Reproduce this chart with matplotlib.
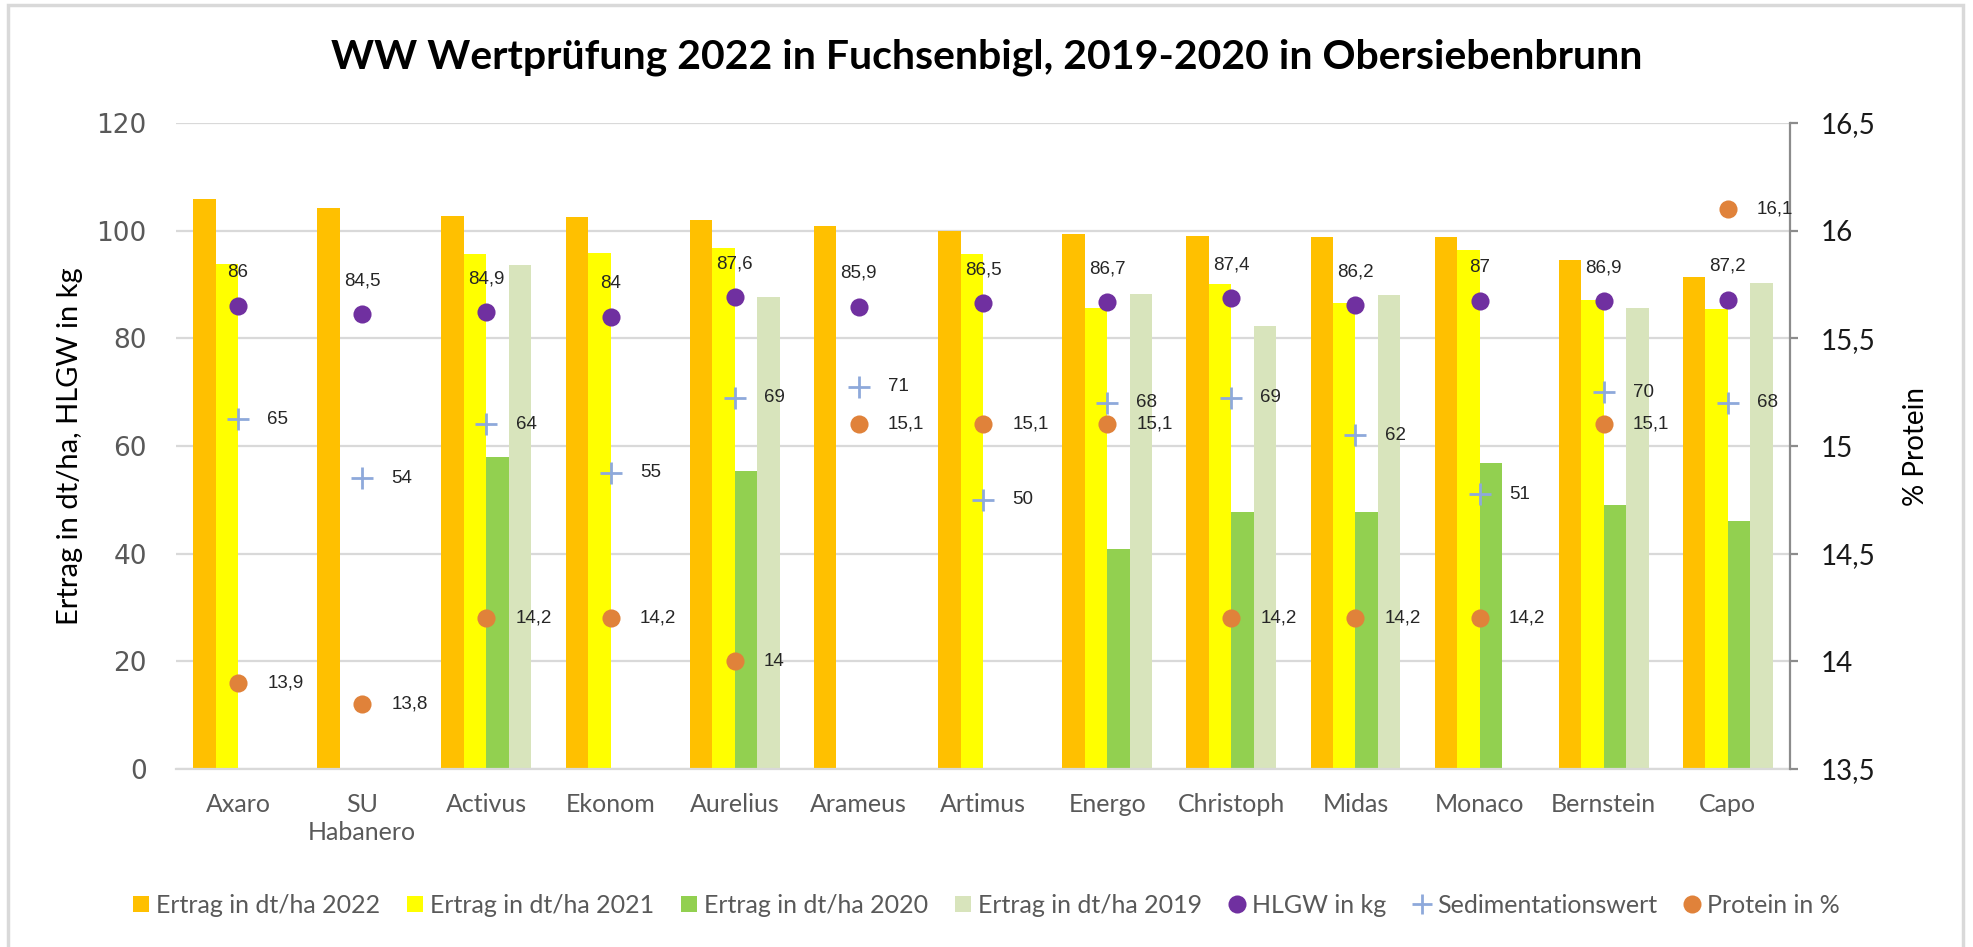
import numpy as np
import matplotlib
matplotlib.use("Agg")
import matplotlib.pyplot as plt
from matplotlib.lines import Line2D
from matplotlib.patches import Rectangle

nan = np.nan

sorten = ["Axaro", "SU\nHabanero", "Activus", "Ekonom", "Aurelius", "Arameus", "Artimus",
          "Energo", "Christoph", "Midas", "Monaco", "Bernstein", "Capo"]
ertrag_2022 = [105.9, 104.2, 102.7, 102.5, 101.9, 100.8, 99.9, 99.4, 99.1, 98.8, 98.8, 94.6, 91.4]
ertrag_2021 = [93.9, nan, 95.6, 95.9, 96.8, nan, 95.6, 85.7, 90.1, 86.5, 96.5, 87.2, 85.5]
ertrag_2020 = [nan, nan, 58.0, nan, 55.3, nan, nan, 40.9, 47.8, 47.8, 56.9, 49.0, 46.1]
ertrag_2019 = [nan, nan, 93.6, nan, 87.7, nan, nan, 88.2, 82.3, 88.0, nan, 85.7, 90.3]
hlgw = [86, 84.5, 84.9, 84, 87.6, 85.9, 86.5, 86.7, 87.4, 86.2, 87, 86.9, 87.2]
sediment = [65, 54, 64, 55, 69, 71, 50, 68, 69, 62, 51, 70, 68]
protein = [13.9, 13.8, 14.2, 14.2, 14, 15.1, 15.1, 15.1, 14.2, 14.2, 14.2, 15.1, 16.1]

bar_series = [
    ("Ertrag in dt/ha 2022", ertrag_2022, "#FFC000"),
    ("Ertrag in dt/ha 2021", ertrag_2021, "#FFFF00"),
    ("Ertrag in dt/ha 2020", ertrag_2020, "#92D050"),
    ("Ertrag in dt/ha 2019", ertrag_2019, "#D8E4BC"),
]
C_HLGW = "#7030A0"
C_SED = "#8EA9DB"
C_PROT = "#E0823A"
GRID = "#D9D9D9"
TXT = "#595959"
LABEL_FONT = ["Liberation Sans", "DejaVu Sans"]
CAL_FONT = ["Lato", "DejaVu Sans"]


def fmt(v):
    return f"{v:g}".replace(".", ",")


fig = plt.figure(figsize=(19.73, 9.47), dpi=100)
ax = fig.add_axes([176 / 1973, 1 - 769 / 947, (1790 - 176) / 1973, (769 - 123) / 947])
ax2 = ax.twinx()

x = np.arange(len(sorten))
w = 0.181
for k, (name, vals, col) in enumerate(bar_series):
    ax.bar(x + (k - 1.5) * w, vals, width=w, color=col, zorder=2, label=name)

ax.scatter(x, hlgw, s=170, color=C_HLGW, zorder=4, linewidths=0)
ax.scatter(x, sediment, s=230, marker="+", color=C_SED, linewidths=2, zorder=4)
ax2.scatter(x, protein, s=170, color=C_PROT, zorder=4, linewidths=0)

for i in range(len(sorten)):
    ax.annotate(fmt(hlgw[i]), (x[i], hlgw[i]), xytext=(0, 24), textcoords="offset points",
                ha="center", va="center", fontsize=13.5, family=LABEL_FONT, color="#262626", zorder=5)
    ax.annotate(fmt(sediment[i]), (x[i], sediment[i]), xytext=(21, 0), textcoords="offset points",
                ha="left", va="center", fontsize=13.5, family=LABEL_FONT, color="#262626", zorder=5)
    ax2.annotate(fmt(protein[i]), (x[i], protein[i]), xytext=(21, 0), textcoords="offset points",
                 ha="left", va="center", fontsize=13.5, family=LABEL_FONT, color="#262626",
                 zorder=5, annotation_clip=False)

ax.set_xlim(-0.5, len(sorten) - 0.5)
ax.set_ylim(0, 120)
ax.set_yticks(np.arange(0, 121, 20))
ax.yaxis.grid(True, color=GRID, linewidth=1.6, zorder=0)
ax.set_axisbelow(True)
for s in ["top", "left", "right"]:
    ax.spines[s].set_visible(False)
ax.spines["bottom"].set_color(GRID)
ax.spines["bottom"].set_linewidth(1.6)
ax.tick_params(axis="y", length=0, pad=21, labelsize=19, labelcolor=TXT)
for lbl in ax.get_yticklabels():
    lbl.set_family(["DejaVu Sans"])
ax.set_xticks(x)
ax.set_xticklabels(sorten, fontsize=18, color=TXT, family=CAL_FONT)
ax.tick_params(axis="x", length=0, pad=17)
for lbl in ax.get_xticklabels():
    lbl.set_linespacing(1.3)
ax.set_ylabel("Ertrag in dt/ha, HLGW in kg", fontsize=21, family=CAL_FONT, color="black", labelpad=10)

ax2.set_ylim(13.5, 16.5)
ax2.set_yticks(np.arange(13.5, 16.51, 0.5))
ax2.set_yticklabels([fmt(v) for v in np.arange(13.5, 16.51, 0.5)])
for s in ["top", "left", "bottom"]:
    ax2.spines[s].set_visible(False)
ax2.spines["right"].set_color("#8C8C8C")
ax2.spines["right"].set_linewidth(1.6)
ax2.tick_params(axis="y", length=6, width=1.6, color="#8C8C8C", pad=16, labelsize=20, labelcolor="#1A1A1A")
for lbl in ax2.get_yticklabels():
    lbl.set_family(CAL_FONT)
ax2.set_ylabel("% Protein", fontsize=20, family=CAL_FONT, color="black", labelpad=20)

fig.text(0.5, 1 - 57 / 947, "WW Wertprüfung 2022 in Fuchsenbigl, 2019-2020 in Obersiebenbrunn",
         ha="center", va="center", fontsize=29.5, fontweight="bold", family=CAL_FONT)

handles = [Line2D([], [], marker="s", linestyle="none", markersize=11, color=c, markeredgewidth=0)
           for _, _, c in bar_series]
handles += [
    Line2D([], [], marker="o", linestyle="none", markersize=13, color=C_HLGW, markeredgewidth=0),
    Line2D([], [], marker="+", linestyle="none", markersize=14, color=C_SED, markeredgewidth=2),
    Line2D([], [], marker="o", linestyle="none", markersize=13, color=C_PROT, markeredgewidth=0),
]
names = [n for n, _, _ in bar_series] + ["HLGW in kg", "Sedimentationswert", "Protein in %"]
leg = fig.legend(handles, names, loc="center", bbox_to_anchor=(0.5, 1 - 905 / 947), ncol=7,
                 frameon=False, handlelength=0.6, handletextpad=0.3, columnspacing=1.1,
                 prop={"family": CAL_FONT, "size": 18})
for t in leg.get_texts():
    t.set_color(TXT)

fig.patches.append(Rectangle((8 / 1973, -0.05), (1963 - 8) / 1973, 1.05 - 5 / 947,
                             transform=fig.transFigure, fill=False, edgecolor=GRID, linewidth=2.5))

fig.savefig("out.png", dpi=100)
